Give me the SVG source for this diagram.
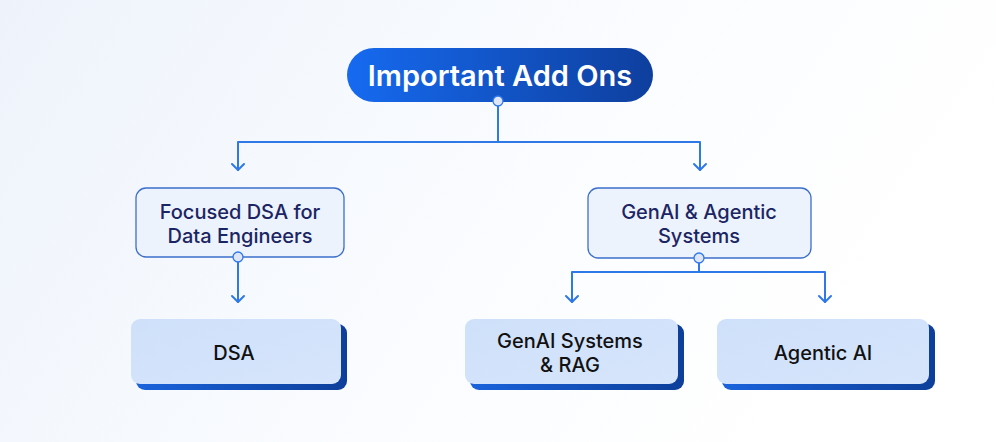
<svg xmlns="http://www.w3.org/2000/svg" width="996" height="442" viewBox="0 0 996 442">
<defs>
<linearGradient id="bg" x1="0" y1="0" x2="1" y2="0.3">
<stop offset="0" stop-color="#eef3fb"/>
<stop offset="0.6" stop-color="#fafcff"/>
<stop offset="1" stop-color="#ffffff"/>
</linearGradient>
<linearGradient id="pill" x1="0" y1="0" x2="1" y2="0">
<stop offset="0" stop-color="#166af0"/>
<stop offset="1" stop-color="#0e3f9e"/>
</linearGradient>
<linearGradient id="shadow" x1="0" y1="0" x2="1" y2="0">
<stop offset="0" stop-color="#1a63dc"/>
<stop offset="1" stop-color="#0d3f9a"/>
</linearGradient>
<linearGradient id="leaf" x1="0" y1="0" x2="1" y2="1">
<stop offset="0" stop-color="#cfe0fa"/>
<stop offset="1" stop-color="#d6e5fb"/>
</linearGradient>
<style>
.ln{fill:none;stroke:#2e78e8;stroke-width:2;stroke-linecap:round;stroke-linejoin:round;}
.dot{fill:#dde5f6;stroke:#2e78e8;stroke-width:1.3;}
.mid{fill:#edf3fd;stroke:#3b6fcc;stroke-width:1.3;}
.midt{font-family:Inter,"Noto Sans",sans-serif;font-size:20px;font-weight:500;fill:#1b2563;text-anchor:middle;}
.leaft{font-family:Inter,"Noto Sans",sans-serif;font-size:20px;font-weight:500;fill:#111111;text-anchor:middle;}
.title{font-family:Inter,"Noto Sans",sans-serif;font-size:29px;font-weight:600;fill:#ffffff;text-anchor:middle;}
</style>
</defs>
<rect width="996" height="442" fill="url(#bg)"/>

<g id="connectors">
<path class="ln" d="M498,106 V142"/>
<path class="ln" d="M238,170 V142 H700 V170"/>
<path class="ln" d="M232,164 L238,170 L244,164"/>
<path class="ln" d="M694,164 L700,170 L706,164"/>
<path class="ln" d="M238,262 V302"/>
<path class="ln" d="M232,296 L238,302 L244,296"/>
<path class="ln" d="M699,263 V272"/>
<path class="ln" d="M572,302 V272 H825 V302"/>
<path class="ln" d="M566,296 L572,302 L578,296"/>
<path class="ln" d="M819,296 L825,302 L831,296"/>
</g>

<g id="root">
<rect x="347" y="48" width="306" height="54" rx="27" fill="url(#pill)"/>
<text class="title" x="500" y="86">Important Add Ons</text>
<circle class="dot" cx="498" cy="101" r="5"/>
</g>

<g id="focused-dsa">
<rect class="mid" x="136" y="188" width="208" height="69" rx="10"/>
<text class="midt" x="240" y="219">Focused DSA for</text>
<text class="midt" x="240" y="243">Data Engineers</text>
<circle class="dot" cx="238" cy="257" r="5"/>
</g>

<g id="genai-agentic">
<rect class="mid" x="588" y="188" width="223" height="70" rx="10"/>
<text class="midt" x="699" y="219">GenAI &amp; Agentic</text>
<text class="midt" x="699" y="243">Systems</text>
<circle class="dot" cx="699" cy="258" r="5"/>
</g>

<g id="dsa">
<rect x="136" y="324" width="211" height="66" rx="9" fill="url(#shadow)"/>
<rect x="131" y="319" width="210" height="65" rx="9" fill="url(#leaf)"/>
<text class="leaft" x="234" y="360">DSA</text>
</g>

<g id="genai-rag">
<rect x="470" y="324" width="214" height="66" rx="9" fill="url(#shadow)"/>
<rect x="465" y="319" width="213" height="65" rx="9" fill="url(#leaf)"/>
<text class="leaft" x="570" y="348">GenAI Systems</text>
<text class="leaft" x="570" y="372">&amp; RAG</text>
</g>

<g id="agentic-ai">
<rect x="722" y="324" width="213" height="66" rx="9" fill="url(#shadow)"/>
<rect x="717" y="319" width="212" height="65" rx="9" fill="url(#leaf)"/>
<text class="leaft" x="823" y="360">Agentic AI</text>
</g>
</svg>
